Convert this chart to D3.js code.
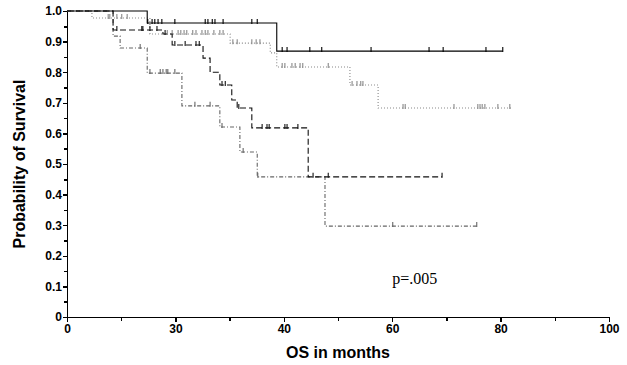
<html>
    <head>
        <script src="https://d3js.org/d3.v7.min.js"></script>
        <style type="text/css">
        body {
            margin: 0;
            background: #fff;
            font-family: "Liberation Sans", Arial, sans-serif;
        }
        .axis path, .axis line {
            stroke: #000;
            stroke-width: 1.5px;
            shape-rendering: crispEdges;
        }
        .axis text {
            font-size: 12px;
            font-weight: bold;
            fill: #000;
        }
        .curve {
            fill: none;
            stroke-width: 1.1px;
        }
        .censor {
            stroke-width: 1.1px;
        }
        .label {
            font-size: 16px;
            font-weight: bold;
        }
        .pval {
            font-family: "Liberation Serif", "Times New Roman", serif;
            font-size: 16px;
        }
        </style>
    </head>
    <body>
        <svg id="chart" width="627" height="365"></svg>
        <script>
        // x axis tick values and labels as printed
        var xTickValues = [0, 20, 40, 60, 80, 100];
        var xTickLabels = ["0", "30", "40", "60", "80", "100"];

        // solid curve
        var solidStep = [0, 14.8, 38.7];
        var solidSurv = [1.0, 0.961, 0.869];
        var solidLast = 80.4;
        var solidCensor = [14.9, 15.7, 16.2, 16.8, 17.5, 19.9, 25.5, 26.0, 26.8, 27.3, 28.8, 34.1, 35.1,
                           39.7, 40.6, 44.8, 47.0, 56.1, 66.8, 69.4, 77.3, 80.4];

        // dotted curve
        var dottedStep = [0, 4.6, 15.3, 30.1, 37.5, 38.7, 52.2, 57.4];
        var dottedSurv = [1.0, 0.977, 0.925, 0.895, 0.863, 0.817, 0.758, 0.683];
        var dottedLast = 82.1;
        var dottedCensor = [7.6, 7.9, 9.2, 10.1, 11.1, 18.5, 19.4, 20.5, 21.0, 21.6, 22.1, 23.2, 23.8, 24.9,
                            25.5, 26.0, 27.1, 28.2, 28.8, 30.6, 31.4, 34.1, 34.9, 35.6, 39.7, 40.2, 41.5,
                            42.1, 43.0, 43.5, 48.2, 52.6, 53.5, 54.2, 54.6, 62.0, 62.4, 71.4, 75.8, 76.2,
                            76.6, 77.1, 79.5, 81.7];

        // dashed curve
        var dashedStep = [0, 8.5, 17.7, 19.4, 25.1, 26.4, 28.2, 30.4, 31.4, 34.1, 44.5];
        var dashedSurv = [1.0, 0.938, 0.925, 0.889, 0.846, 0.80, 0.758, 0.709, 0.683, 0.618, 0.458];
        var dashedLast = 69.2;
        var dashedCensor = [9.2, 13.8, 14.0, 15.3, 16.6, 18.1, 19.9, 21.8, 23.8, 24.4, 28.6, 29.2, 31.7,
                            36.0, 36.9, 37.3, 40.2, 40.6, 42.6, 45.4, 48.2, 69.2];

        // dash-dot curve
        var dashdotStep = [0, 8.5, 9.8, 14.8, 21.2, 28.2, 31.9, 35.1, 47.6];
        var dashdotSurv = [1.0, 0.918, 0.879, 0.797, 0.690, 0.621, 0.539, 0.458, 0.297];
        var dashdotLast = 75.6;
        var dashdotCensor = [13.5, 15.3, 17.2, 17.7, 18.3, 18.6, 19.9, 23.6, 26.4, 28.6, 32.5, 35.2, 60.1, 75.6];

        var margin = {top: 11, right: 18, bottom: 48, left: 67};
        var width = 627 - margin.left - margin.right,
            height = 365 - margin.top - margin.bottom;

        var svg = d3.select("#chart");
        var g = svg.append("g")
            .attr("transform", "translate(" + margin.left + "," + margin.top + ")");

        var x = d3.scaleLinear().domain([0, 100]).range([0, width]);
        var y = d3.scaleLinear().domain([0, 1]).range([height, 0]);

        // minor ticks first so the main axes sit on top
        g.append("g")
            .attr("class", "axis")
            .attr("transform", "translate(0," + height + ")")
            .call(d3.axisBottom(x).tickValues(d3.range(10, 100, 20)).tickSize(4).tickFormat(""))
            .select(".domain").remove();
        g.append("g")
            .attr("class", "axis")
            .call(d3.axisLeft(y).tickValues(d3.range(0.05, 1, 0.1)).tickSizeInner(3).tickSizeOuter(0).tickFormat(""))
            .select(".domain").remove();

        g.append("g")
            .attr("class", "axis")
            .attr("transform", "translate(0," + height + ")")
            .call(d3.axisBottom(x).tickValues(xTickValues).tickSizeInner(5).tickSizeOuter(0).tickPadding(2)
                .tickFormat(function(d, i) { return xTickLabels[i]; }));

        g.append("g")
            .attr("class", "axis")
            .call(d3.axisLeft(y).tickValues(d3.range(0, 1.01, 0.1)).tickSizeInner(4).tickSizeOuter(0).tickPadding(1)
                .tickFormat(function(d) { return d === 0 ? "0" : d3.format(".1f")(d); }));

        var line = d3.line()
            .x(function(d) { return x(d[0]); })
            .y(function(d) { return y(d[1]); })
            .curve(d3.curveStepAfter);

        function survAt(steps, surv, t) {
            var i = d3.bisectRight(steps, t) - 1;
            return surv[Math.max(0, i)];
        }

        function drawCurve(steps, surv, last, censor, color, dash) {
            var pts = steps.map(function(t, i) { return [t, surv[i]]; });
            pts.push([last, surv[surv.length - 1]]);
            g.append("path")
                .datum(pts)
                .attr("class", "curve")
                .attr("stroke", color)
                .attr("stroke-dasharray", dash)
                .attr("d", line);
            g.selectAll(null)
                .data(censor)
              .enter().append("line")
                .attr("class", "censor")
                .attr("stroke", color)
                .attr("x1", function(d) { return x(d); })
                .attr("x2", function(d) { return x(d); })
                .attr("y1", function(d) { return y(survAt(steps, surv, d)) - 4; })
                .attr("y2", function(d) { return y(survAt(steps, surv, d)) + 1; });
        }

        drawCurve(dottedStep, dottedSurv, dottedLast, dottedCensor, "#888", "1,2");
        drawCurve(dashdotStep, dashdotSurv, dashdotLast, dashdotCensor, "#666", "4,2,1,2");
        drawCurve(dashedStep, dashedSurv, dashedLast, dashedCensor, "#111", "6,3");
        drawCurve(solidStep, solidSurv, solidLast, solidCensor, "#000", null);

        // labels
        svg.append("text")
            .attr("class", "label")
            .attr("text-anchor", "middle")
            .attr("x", margin.left + width / 2)
            .attr("y", 358)
            .text("OS in months");

        svg.append("text")
            .attr("class", "label")
            .attr("text-anchor", "middle")
            .attr("transform", "translate(25," + (margin.top + height / 2) + ") rotate(-90)")
            .text("Probability of Survival");

        g.append("text")
            .attr("class", "pval")
            .attr("x", x(60))
            .attr("y", y(0.108))
            .text("p=.005");
        </script>
    </body>
</html>
